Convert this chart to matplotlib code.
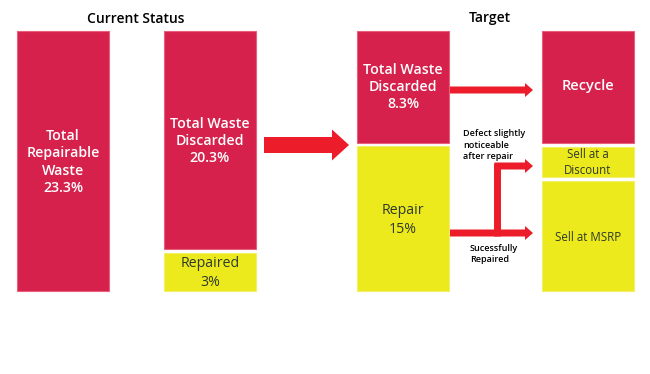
import matplotlib
matplotlib.use('Agg')
import matplotlib.pyplot as plt
from matplotlib.patches import FancyArrow

plt.rcParams['font.family'] = ['Open Sans', 'DejaVu Sans']

# data
titles = ['Current Status', 'Target']
current_labels = ['Total\nRepairable\nWaste', 'Total Waste\nDiscarded', 'Repaired']
current_values = [23.3, 20.3, 3]
target_labels = ['Total Waste\nDiscarded', 'Repair']
target_values = [8.3, 15]
outcome_labels = ['Recycle', 'Sell at a\nDiscount', 'Sell at MSRP']
route_notes = ['Defect slightly\nnoticeable\nafter repair', 'Sucessfully\nRepaired']

RED = '#D5214B'
YEL = '#ECE91D'
ARROW = '#EC1C2A'
DARK = '#2E3A2C'

# layout (pixels)
fig = plt.figure(figsize=(6.5, 3.74), dpi=100)
ax = fig.add_axes([0, 0, 1, 1])
ax.set_xlim(0, 650)
ax.set_ylim(374, 0)
ax.axis('off')

def fmt(v):
    return ('%g' % v) + '%'

# boxes: (x_left, width, top, height, color)
cur_boxes = [(17, 92, 31, 260, RED), (164, 92, 31, 218, RED), (164, 92, 253, 38, YEL)]
tgt_boxes = [(357, 92, 31, 112, RED), (357, 92, 146, 145, YEL)]
out_boxes = [(542, 92, 31, 112, RED), (542, 92, 147, 30, YEL), (542, 92, 181, 110, YEL)]

def draw(boxes, texts, size, txt_y, ls=1.3, red_size=None):
    for i, (b, t) in enumerate(zip(boxes, texts)):
        x0, w, top, h, c = b
        ax.bar(x0 + w / 2, h, width=w, bottom=top, color=c,
               edgecolor='#E8607E' if c == RED else '#F2F06A', linewidth=0.8)
        white = c == RED
        ax.text(x0 + w / 2, txt_y[i], t, ha='center', va='center',
                color='white' if white else DARK,
                fontsize=(red_size or size) if white else size,
                fontweight='semibold' if white else 'normal', linespacing=ls)

draw(cur_boxes, [l + '\n' + fmt(v) for l, v in zip(current_labels, current_values)],
     10.2, [162, 141, 273], ls=1.3)
draw(tgt_boxes, [l + '\n' + fmt(v) for l, v in zip(target_labels, target_values)],
     10.2, [87, 220], ls=1.3)
draw(out_boxes, outcome_labels, 8.3, [86, 162, 237], ls=1.3, red_size=10.5)

ax.text(136, 19, titles[0], ha='center', va='center', fontsize=10, fontweight='semibold')
ax.text(490, 18, titles[1], ha='center', va='center', fontsize=10, fontweight='semibold')

# arrows
ax.add_patch(FancyArrow(264, 145, 85, 0, width=16, head_width=31, head_length=17,
                        length_includes_head=True, color=ARROW, lw=0))
ax.add_patch(FancyArrow(450, 90, 83, 0, width=7, head_width=14, head_length=8,
                        length_includes_head=True, color=ARROW, lw=0))
ax.add_patch(FancyArrow(450, 233, 83, 0, width=7, head_width=14, head_length=8,
                        length_includes_head=True, color=ARROW, lw=0))
ax.plot([497, 497], [236, 163], color=ARROW, lw=5, solid_capstyle='butt')
ax.add_patch(FancyArrow(494.5, 166, 38.5, 0, width=7, head_width=14, head_length=8,
                        length_includes_head=True, color=ARROW, lw=0))

ax.text(463, 145, route_notes[0], ha='left', va='center', fontsize=6.5,
        fontweight='semibold', linespacing=1.3)
ax.text(470, 254, route_notes[1], ha='left', va='center', fontsize=6.5,
        fontweight='semibold', linespacing=1.3)

fig.savefig('out.png', dpi=100)
